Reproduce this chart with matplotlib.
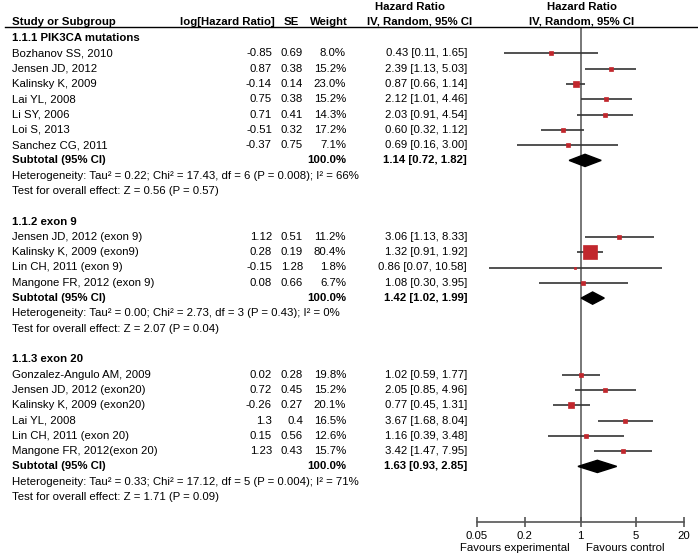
import matplotlib
matplotlib.use("Agg")
import matplotlib.pyplot as plt
from matplotlib.transforms import blended_transform_factory
from matplotlib.lines import Line2D

plt.rcParams['font.family'] = ['Liberation Sans', 'DejaVu Sans']
plt.rcParams['font.size'] = 8.2

# ---- data ----
# 1.1.1 PIK3CA mutations
studies1 = ["Bozhanov SS, 2010", "Jensen JD, 2012", "Kalinsky K, 2009", "Lai YL, 2008",
            "Li SY, 2006", "Loi S, 2013", "Sanchez CG, 2011"]
loghr1 = [-0.85, 0.87, -0.14, 0.75, 0.71, -0.51, -0.37]
se1 = [0.69, 0.38, 0.14, 0.38, 0.41, 0.32, 0.75]
weight1 = [8.0, 15.2, 23.0, 15.2, 14.3, 17.2, 7.1]
hr1 = [0.43, 2.39, 0.87, 2.12, 2.03, 0.60, 0.69]
lo1 = [0.11, 1.13, 0.66, 1.01, 0.91, 0.32, 0.16]
hi1 = [1.65, 5.03, 1.14, 4.46, 4.54, 1.12, 3.00]
sub1 = [1.14, 0.72, 1.82]
het1 = "Heterogeneity: Tau² = 0.22; Chi² = 17.43, df = 6 (P = 0.008); I² = 66%"
test1 = "Test for overall effect: Z = 0.56 (P = 0.57)"

# 1.1.2 exon 9
studies2 = ["Jensen JD, 2012 (exon 9)", "Kalinsky K, 2009 (exon9)", "Lin CH, 2011 (exon 9)",
            "Mangone FR, 2012 (exon 9)"]
loghr2 = [1.12, 0.28, -0.15, 0.08]
se2 = [0.51, 0.19, 1.28, 0.66]
weight2 = [11.2, 80.4, 1.8, 6.7]
hr2 = [3.06, 1.32, 0.86, 1.08]
lo2 = [1.13, 0.91, 0.07, 0.30]
hi2 = [8.33, 1.92, 10.58, 3.95]
sub2 = [1.42, 1.02, 1.99]
het2 = "Heterogeneity: Tau² = 0.00; Chi² = 2.73, df = 3 (P = 0.43); I² = 0%"
test2 = "Test for overall effect: Z = 2.07 (P = 0.04)"

# 1.1.3 exon 20
studies3 = ["Gonzalez-Angulo AM, 2009", "Jensen JD, 2012 (exon20)", "Kalinsky K, 2009 (exon20)",
            "Lai YL, 2008", "Lin CH, 2011 (exon 20)", "Mangone FR, 2012(exon 20)"]
loghr3 = [0.02, 0.72, -0.26, 1.3, 0.15, 1.23]
se3 = [0.28, 0.45, 0.27, 0.4, 0.56, 0.43]
weight3 = [19.8, 15.2, 20.1, 16.5, 12.6, 15.7]
hr3 = [1.02, 2.05, 0.77, 3.67, 1.16, 3.42]
lo3 = [0.59, 0.85, 0.45, 1.68, 0.39, 1.47]
hi3 = [1.77, 4.96, 1.31, 8.04, 3.48, 7.95]
sub3 = [1.63, 0.93, 2.85]
het3 = "Heterogeneity: Tau² = 0.33; Chi² = 17.12, df = 5 (P = 0.004); I² = 71%"
test3 = "Test for overall effect: Z = 1.71 (P = 0.09)"

groups = [
    ("1.1.1 PIK3CA mutations", studies1, loghr1, se1, weight1, hr1, lo1, hi1, sub1, het1, test1),
    ("1.1.2 exon 9", studies2, loghr2, se2, weight2, hr2, lo2, hi2, sub2, het2, test2),
    ("1.1.3 exon 20", studies3, loghr3, se3, weight3, hr3, lo3, hi3, sub3, het3, test3),
]

xticks = [0.05, 0.2, 1, 5, 20]
xticklabels = ["0.05", "0.2", "1", "5", "20"]

# ---- figure layout (pixel based) ----
W, H = 698, 559
fig = plt.figure(figsize=(W / 100, H / 100), dpi=100)
row0_px, row_h = 38.0, 15.3
top_px, bot_px = 26.5, 522.0
ax = fig.add_axes([477 / W, 1 - bot_px / H, (684 - 477) / W, (bot_px - top_px) / H])
ax.set_xscale('log')
ax.set_xlim(0.05, 20)
ax.set_ylim((bot_px - row0_px) / row_h, (top_px - row0_px) / row_h)

for s in ['top', 'left', 'right']:
    ax.spines[s].set_visible(False)
ax.spines['bottom'].set_color('#555555')
ax.spines['bottom'].set_linewidth(1.2)
ax.set_yticks([])
ax.set_xticks(xticks)
ax.set_xticklabels(xticklabels)
ax.minorticks_off()
ax.tick_params(axis='x', direction='inout', length=7, width=1.2, color='#555555', pad=3)
ax.axvline(1, color='#777777', lw=1.4, zorder=1)

trans = blended_transform_factory(fig.transFigure, ax.transData)


def put(xpx, row, s, ha='left', bold=False):
    ax.text(xpx / W, row, s, transform=trans, ha=ha, va='center',
            fontweight='bold' if bold else 'normal', clip_on=False)


# column headers
hdr1 = (7 - row0_px) / row_h
hdr2 = (22 - row0_px) / row_h
put(12, hdr2, "Study or Subgroup", bold=True)
put(275, hdr2, "log[Hazard Ratio]", ha='right', bold=True)
put(299, hdr2, "SE", ha='right', bold=True)
put(348, hdr2, "Weight", ha='right', bold=True)
put(410, hdr1, "Hazard Ratio", ha='center', bold=True)
put(420, hdr2, "IV, Random, 95% CI", ha='center', bold=True)
put(582, hdr1, "Hazard Ratio", ha='center', bold=True)
put(582, hdr2, "IV, Random, 95% CI", ha='center', bold=True)
fig.add_artist(Line2D([5 / W, 1], [1 - top_px / H] * 2, color='black', lw=1))

row = 0
for title, studies, lhr, se, w, hr, lo, hi, sub, het, test in groups:
    put(12, row, title, bold=True)
    row += 1
    for i in range(len(studies)):
        put(12, row, studies[i])
        put(272, row, str(lhr[i]), ha='right')
        put(303, row, f"{se[i]:.2f}".rstrip('0') if len(str(se[i])) < 4 else str(se[i]), ha='right')
        put(346, row, f"{w[i]:.1f}%", ha='right')
        put(467, row, f"{hr[i]:.2f} [{lo[i]:.2f}, {hi[i]:.2f}]", ha='right')
        ax.hlines(row, lo[i], hi[i], color='#333333', lw=1.2, zorder=2)
        side = 2 + 0.15 * w[i]
        ax.plot(hr[i], row, marker='s', ms=side * 0.72, color='#c1272d',
                mec='#c1272d', mew=0.5, zorder=3)
        row += 1
    put(12, row, "Subtotal (95% CI)", bold=True)
    put(346, row, "100.0%", ha='right', bold=True)
    put(467, row, f"{sub[0]:.2f} [{sub[1]:.2f}, {sub[2]:.2f}]", ha='right', bold=True)
    ax.fill([sub[1], sub[0], sub[2], sub[0]], [row, row - 0.4, row, row + 0.4],
            color='black', zorder=3)
    row += 1
    put(12, row, het)
    row += 1
    put(12, row, test)
    row += 2

fig.text(570 / W, 1 - 548 / H, "Favours experimental", ha='right', va='center')
fig.text(586 / W, 1 - 548 / H, "Favours control", ha='left', va='center')

fig.savefig('out.png', dpi=100)
